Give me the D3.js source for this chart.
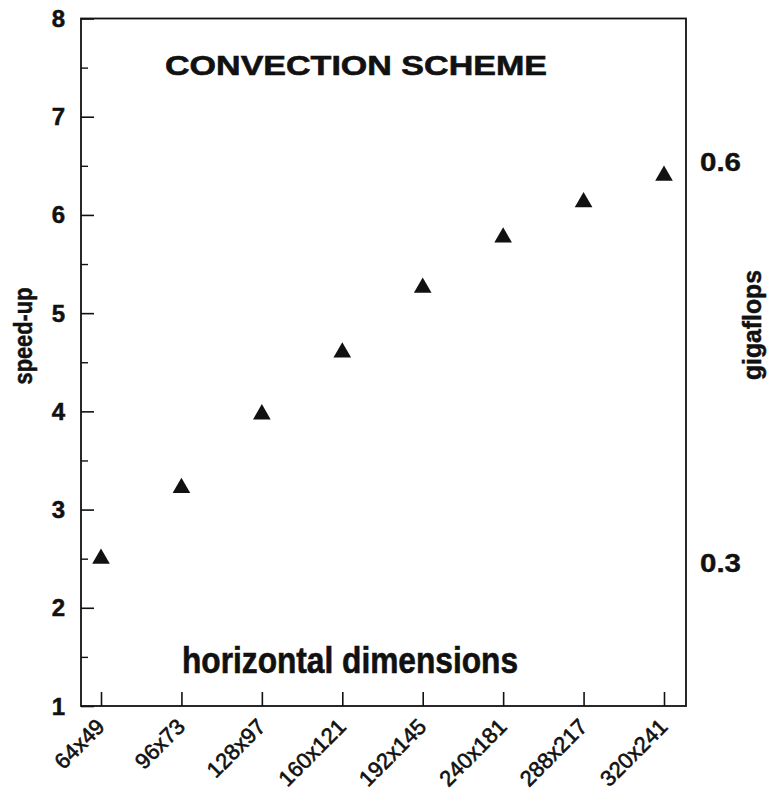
<!DOCTYPE html>
<html lang="en">
<head>
  <meta charset="UTF-8">
  <title>Convection scheme speed-up</title>
  <script src="https://d3js.org/d3.v7.min.js"></script>
  <style>
    body { margin: 0; background: #fff; }
    svg { font-family: "Liberation Sans", Arial, Helvetica, sans-serif; }
  </style>
</head>
<body>
  <div id="chart"></div>
  <script>
    // data
    const dims = ["64x49", "96x73", "128x97", "160x121", "192x145", "240x181", "288x217", "320x241"];
    const speedUp = [2.5, 3.22, 3.97, 4.6, 5.26, 5.77, 6.13, 6.4];
    const speedTicks = [1, 2, 3, 4, 5, 6, 7, 8];
    const speedMinor = [1.5, 2.5, 3.5, 4.5, 5.5, 6.5, 7.5];
    const gigaTicks = [0.3, 0.6];

    const W = 770, H = 801;
    const plotL = 81, plotR = 686, plotT = 18.5, plotB = 706;

    const svg = d3.select("#chart").append("svg")
      .attr("width", W)
      .attr("height", H);

    //scales
    const x = d3.scalePoint().domain(dims).range([101, 664]);
    const y = d3.scaleLinear().domain([1, 8]).range([plotB, plotT]);
    // right axis is linear in gigaflops: 0.3 at ~2.455, 0.6 at ~6.535 speed-up
    const gfAt = s => 0.3 + (s - 2.455) * (0.3 / 4.08);
    const yR = d3.scaleLinear().domain([gfAt(1), gfAt(8)]).range([plotB, plotT]);

    //frame
    svg.append("rect")
      .attr("x", plotL).attr("y", plotT)
      .attr("width", plotR - plotL).attr("height", plotB - plotT)
      .attr("fill", "none")
      .attr("stroke", "#111")
      .attr("stroke-width", 1.8);

    //left axis, ticks point inward
    const leftAxis = svg.append("g")
      .attr("transform", `translate(${plotL},0)`)
      .call(d3.axisRight(y).tickValues(speedTicks).tickSize(13).tickFormat(""));
    leftAxis.select(".domain").remove();
    leftAxis.selectAll("line").attr("stroke", "#111").attr("stroke-width", 1.6);

    const leftMinor = svg.append("g")
      .attr("transform", `translate(${plotL},0)`)
      .call(d3.axisRight(y).tickValues(speedMinor).tickSize(7).tickFormat(""));
    leftMinor.select(".domain").remove();
    leftMinor.selectAll("line").attr("stroke", "#111").attr("stroke-width", 1.4);

    svg.selectAll(".ylab")
      .data(speedTicks)
      .enter().append("text")
      .attr("class", "ylab")
      .attr("x", 65)
      .attr("y", d => y(d) + 8.5)
      .attr("text-anchor", "end")
      .attr("font-size", 24)
      .attr("font-weight", "bold")
      .attr("fill", "#111")
      .attr("stroke", "#111").attr("stroke-width", 0.5)
      .text(d => d);

    //bottom axis, ticks point up
    const bottomAxis = svg.append("g")
      .attr("transform", `translate(0,${plotB})`)
      .call(d3.axisTop(x).tickSize(14).tickFormat(""));
    bottomAxis.select(".domain").remove();
    bottomAxis.selectAll("line").attr("stroke", "#111").attr("stroke-width", 1.6);

    svg.selectAll(".xlab")
      .data(dims)
      .enter().append("text")
      .attr("class", "xlab")
      .attr("transform", d => `translate(${x(d) + 5},${plotB + 22}) rotate(-45)`)
      .attr("text-anchor", "end")
      .attr("font-size", 22)
      .attr("fill", "#111")
      .attr("stroke", "#111").attr("stroke-width", 0.6)
      .text(d => d);

    //right axis labels (gigaflops)
    svg.selectAll(".rlab")
      .data(gigaTicks)
      .enter().append("text")
      .attr("class", "rlab")
      .attr("x", 700)
      .attr("y", d => yR(d) + 9)
      .attr("font-size", 26)
      .attr("font-weight", "bold")
      .attr("textLength", 41)
      .attr("lengthAdjust", "spacingAndGlyphs")
      .attr("fill", "#111")
      .attr("stroke", "#111").attr("stroke-width", 0.4)
      .text(d => d.toFixed(1));

    //points
    svg.selectAll(".pt")
      .data(speedUp)
      .enter().append("path")
      .attr("class", "pt")
      .attr("d", d3.symbol().type(d3.symbolTriangle).size(135))
      .attr("transform", (d, i) => `translate(${x(dims[i])},${y(d)})`)
      .attr("fill", "#111");

    //titles
    svg.append("text")
      .attr("x", 165).attr("y", 75)
      .attr("font-size", 28.5)
      .attr("font-weight", "bold")
      .attr("textLength", 382)
      .attr("lengthAdjust", "spacingAndGlyphs")
      .attr("fill", "#111")
      .attr("stroke", "#111").attr("stroke-width", 0.6)
      .text("CONVECTION SCHEME");

    svg.append("text")
      .attr("x", 182).attr("y", 673)
      .attr("font-size", 36)
      .attr("font-weight", "bold")
      .attr("textLength", 336)
      .attr("lengthAdjust", "spacingAndGlyphs")
      .attr("fill", "#111")
      .attr("stroke", "#111").attr("stroke-width", 0.6)
      .text("horizontal dimensions");

    svg.append("text")
      .attr("transform", "translate(32,336) rotate(-90)")
      .attr("text-anchor", "middle")
      .attr("font-size", 25)
      .attr("font-weight", "bold")
      .attr("textLength", 97)
      .attr("lengthAdjust", "spacingAndGlyphs")
      .attr("fill", "#111")
      .attr("stroke", "#111").attr("stroke-width", 0.5)
      .text("speed-up");

    svg.append("text")
      .attr("transform", "translate(761,325) rotate(-90)")
      .attr("text-anchor", "middle")
      .attr("font-size", 26)
      .attr("font-weight", "bold")
      .attr("textLength", 110)
      .attr("lengthAdjust", "spacingAndGlyphs")
      .attr("fill", "#111")
      .attr("stroke", "#111").attr("stroke-width", 0.5)
      .text("gigaflops");
  </script>
</body>
</html>
